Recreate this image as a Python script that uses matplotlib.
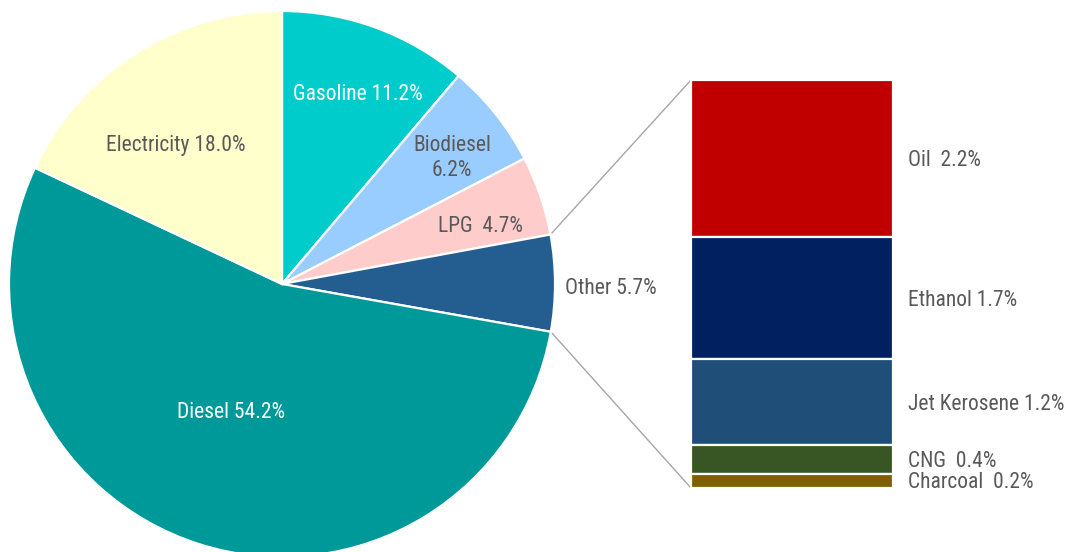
import numpy as np
import matplotlib
matplotlib.use("Agg")
import matplotlib.pyplot as plt

# Fuel shares (%)
fuels = ["Gasoline", "Biodiesel", "LPG", "Other", "Diesel", "Electricity"]
shares = [11.2, 6.2, 4.7, 5.7, 54.2, 18.0]
fuel_colors = ["#00CCCC", "#99CCFF", "#FFCCCC", "#245E90", "#009999", "#FFFFCC"]

# Breakdown of "Other" (%)
other_fuels = ["Oil", "Ethanol", "Jet Kerosene", "CNG", "Charcoal"]
other_shares = [2.2, 1.7, 1.2, 0.4, 0.2]
other_colors = ["#C00000", "#002060", "#1F4E79", "#375623", "#7F6000"]

FONT = ["Roboto Condensed", "Liberation Sans Narrow", "Roboto", "DejaVu Sans"]
GREY = "#595959"
FS = 15.5
TEXT_DY = -2  # nudge labels slightly down

W, H = 1067, 552
fig = plt.figure(figsize=(W / 100, H / 100), dpi=100)
ax = fig.add_axes([0, 0, 1, 1])

center = (282, 268)
radius = 273
explode = [0.012 if f == "Other" else 0 for f in fuels]
wedges, _ = ax.pie(shares, colors=fuel_colors, startangle=90, counterclock=False,
                   center=center, radius=radius, explode=explode, frame=True,
                   wedgeprops=dict(edgecolor="white", linewidth=1.6))
ax.set_xlim(0, W)
ax.set_ylim(0, H)
ax.set_aspect("equal")
ax.axis("off")

# Pie labels
labels = {
    "Gasoline": ("Gasoline 11.2%", (358, 460), "white"),
    "Biodiesel": ("Biodiesel\n6.2%", (452, 396), GREY),
    "LPG": ("LPG  4.7%", (480, 328), GREY),
    "Other": ("Other 5.7%", (611, 265), GREY),
    "Diesel": ("Diesel 54.2%", (231, 141), "white"),
    "Electricity": ("Electricity 18.0%", (176, 408), GREY),
}
for f in fuels:
    txt, pos, col = labels[f]
    ax.text(pos[0], pos[1] + TEXT_DY, txt, ha="center", va="center", color=col,
            fontsize=FS, family=FONT, linespacing=1.25)

# Stacked bar for the "Other" breakdown
bar_x, bar_w = 792, 202
bar_top, bar_bottom = 472, 64
scale = (bar_top - bar_bottom) / sum(other_shares)
bottom = bar_top
for name, v, c in zip(other_fuels, other_shares, other_colors):
    h = v * scale
    bottom -= h
    ax.bar(bar_x, h, bottom=bottom, width=bar_w, color=c,
           edgecolor="white", linewidth=1.6)
    label = f"{name}  {v}%" if name in ("Oil", "CNG", "Charcoal") else f"{name} {v}%"
    ax.text(bar_x + bar_w / 2 + 15, bottom + h / 2 + TEXT_DY, label, ha="left",
            va="center", color=GREY, fontsize=FS, family=FONT)

# Connector lines from the "Other" wedge to the bar
w = wedges[fuels.index("Other")]
cx, cy = w.center
r = w.r
for ang, yb in ((w.theta2, bar_top), (w.theta1, bar_bottom)):
    px = cx + r * np.cos(np.radians(ang))
    py = cy + r * np.sin(np.radians(ang))
    ax.plot([px, bar_x - bar_w / 2], [py, yb], color="#A6A6A6", lw=1.0, zorder=0)

fig.savefig("out.png", dpi=100)
